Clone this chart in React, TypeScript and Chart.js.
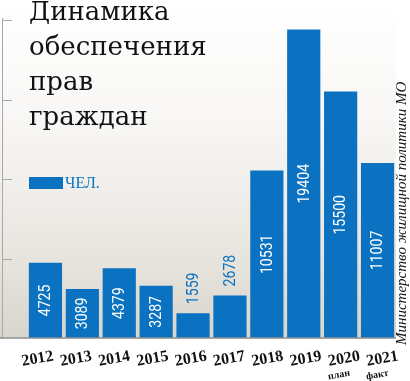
import React, { useEffect, useRef } from "react";
import { Chart, registerables } from "chart.js";

Chart.register(...registerables);

const years = ["2012", "2013", "2014", "2015", "2016", "2017", "2018", "2019", "2020", "2021"];
const subLabels = ["", "", "", "", "", "", "", "", "план", "факт"];
const values = [4725, 3089, 4379, 3287, 1559, 2678, 10531, 19404, 15500, 11007];
const yTicks = [5000, 10000, 15000, 20000];
const titleLines = ["Динамика", "обеспечения", "прав", "граждан"];
const legendLabel = "ЧЕЛ.";
const sourceText = "Министерство жилищной политики МО";

const BAR = "#0b72c2";
const CONDENSE = 0.83;

const backgroundPlugin = {
  id: "bgPlugin",
  beforeDraw(chart: any) {
    const { ctx, chartArea } = chart;
    const { right, bottom } = chartArea;
    ctx.save();
    const g = ctx.createLinearGradient(0, 0, 0, bottom);
    g.addColorStop(0, "#ffffff");
    g.addColorStop(0.35, "#f8f7f5");
    g.addColorStop(0.7, "#ebe8e3");
    g.addColorStop(1, "#d9d5cc");
    ctx.fillStyle = g;
    ctx.fillRect(0, 0, right, bottom);
    ctx.restore();
  },
  beforeDatasetsDraw(chart: any) {
    const { ctx, chartArea } = chart;
    const y = chart.scales.y;
    ctx.save();
    ctx.strokeStyle = "#a8a8a8";
    ctx.lineWidth = 1;
    const axX = 2.5;
    ctx.beginPath();
    ctx.moveTo(axX, y.getPixelForValue(yTicks[yTicks.length - 1]) - 2);
    ctx.lineTo(axX, chartArea.bottom);
    yTicks.forEach((v) => {
      const py = Math.round(y.getPixelForValue(v)) + 0.5;
      ctx.moveTo(axX, py);
      ctx.lineTo(12, py);
    });
    ctx.stroke();
    ctx.restore();
  },
  afterDatasetsDraw(chart: any) {
    const { ctx, chartArea } = chart;
    ctx.save();
    ctx.strokeStyle = "#8e8e8e";
    ctx.lineWidth = 1.5;
    ctx.beginPath();
    ctx.moveTo(0, chartArea.bottom);
    ctx.lineTo(chartArea.right, chartArea.bottom);
    ctx.stroke();

    const meta = chart.getDatasetMeta(0);
    ctx.font = '17px "Roboto", sans-serif';
    ctx.textBaseline = "middle";
    meta.data.forEach((bar: any, i: number) => {
      const { x, y, base } = bar.getProps(["x", "y", "base"], true);
      const text = String(values[i]);
      const w = ctx.measureText(text).width * CONDENSE;
      const h = base - y;
      ctx.save();
      if (h > w + 12) {
        ctx.translate(x + 0.5, (y + base) / 2);
        ctx.rotate(-Math.PI / 2);
        ctx.scale(CONDENSE, 1);
        ctx.fillStyle = "#ffffff";
        ctx.textAlign = "center";
      } else {
        ctx.translate(x + 0.5, y - 9);
        ctx.rotate(-Math.PI / 2);
        ctx.scale(CONDENSE, 1);
        ctx.fillStyle = BAR;
        ctx.textAlign = "left";
      }
      ctx.fillText(text, 0, 0);
      ctx.restore();
    });

    const xs = chart.scales.x;
    const ang = (-10 * Math.PI) / 180;
    years.forEach((label, i) => {
      const cx = xs.getPixelForValue(i) + (i - 4.5) * 1.4 - 1.5;
      const cy = chartArea.bottom + 21;
      ctx.save();
      ctx.translate(cx, cy);
      ctx.rotate(ang);
      ctx.fillStyle = "#111111";
      ctx.textAlign = "center";
      ctx.textBaseline = "middle";
      ctx.font = 'bold 16px "Liberation Serif", serif';
      ctx.fillText(label, 0, 0);
      ctx.restore();
      if (subLabels[i]) {
        ctx.save();
        ctx.translate(cx - 5, cy + 16);
        ctx.rotate(ang);
        ctx.fillStyle = "#111111";
        ctx.textAlign = "center";
        ctx.textBaseline = "middle";
        ctx.font = 'bold 10px "Liberation Serif", serif';
        ctx.fillText(subLabels[i], 0, 0);
        ctx.restore();
      }
    });
    ctx.restore();
  },
};

export default function App() {
  const ref = useRef<HTMLCanvasElement | null>(null);

  useEffect(() => {
    if (!ref.current) return;
    const chart = new Chart(ref.current, {
      type: "bar",
      data: {
        labels: years,
        datasets: [
          {
            label: legendLabel,
            data: values,
            backgroundColor: BAR,
            barPercentage: 0.9,
            categoryPercentage: 1,
          },
        ],
      },
      options: {
        animation: false,
        responsive: false,
        maintainAspectRatio: false,
        layout: { padding: { left: 27, right: 14, top: 20, bottom: 43 } },
        scales: {
          x: { display: false },
          y: { display: false, min: 0, max: 20000 },
        },
        plugins: {
          legend: { display: false },
          tooltip: { enabled: false },
        },
      },
      plugins: [backgroundPlugin],
    });
    return () => chart.destroy();
  }, []);

  return (
    <div
      style={{
        position: "fixed",
        left: 0,
        top: 0,
        width: 410,
        height: 381,
        background: "#ffffff",
        overflow: "hidden",
      }}
    >
      <canvas ref={ref} width={410} height={381} style={{ position: "absolute", left: 0, top: 0 }} />
      <div
        style={{
          position: "absolute",
          left: 29,
          top: -6,
          fontFamily: '"DejaVu Serif", serif',
          fontSize: 26,
          lineHeight: "35px",
          color: "#111111",
          whiteSpace: "nowrap",
        }}
      >
        {titleLines.map((l, i) => (
          <div key={i}>{l}</div>
        ))}
      </div>
      <div style={{ position: "absolute", left: 29, top: 177, width: 34, height: 12, background: BAR }} />
      <div
        style={{
          position: "absolute",
          left: 65,
          top: 175,
          height: 15,
          lineHeight: "15px",
          fontFamily: '"Liberation Serif", serif',
          fontSize: 16,
          color: BAR,
          whiteSpace: "nowrap",
        }}
      >
        {legendLabel}
      </div>
      <div
        style={{
          position: "absolute",
          left: 394,
          top: 345,
          lineHeight: "15px",
          height: 15,
          fontFamily: '"Liberation Serif", serif',
          fontStyle: "italic",
          fontSize: 15,
          color: "#111111",
          whiteSpace: "nowrap",
          transform: "rotate(-90deg)",
          transformOrigin: "left top",
        }}
      >
        {sourceText}
      </div>
    </div>
  );
}
